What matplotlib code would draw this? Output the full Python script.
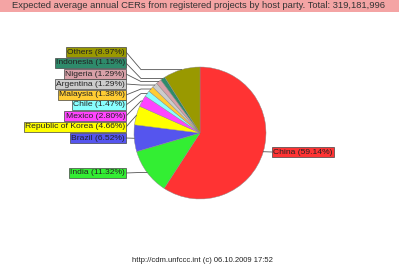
import numpy as np
import matplotlib
matplotlib.use("Agg")
import matplotlib.pyplot as plt
from matplotlib.patches import Rectangle

plt.rcParams["font.family"] = ["Liberation Sans", "DejaVu Sans"]

parties = ["China", "India", "Brazil", "Republic of Korea", "Mexico", "Chile",
           "Malaysia", "Argentina", "Nigeria", "Indonesia", "Others"]
shares = [59.14, 11.32, 6.52, 4.66, 2.80, 1.47, 1.38, 1.29, 1.29, 1.15, 8.97]
colors = ["#ff3333", "#33ee33", "#5555ee", "#ffff00", "#ff44ff", "#88ffff",
          "#ffcc33", "#cccccc", "#d8a0a8", "#2e8b6b", "#999900"]
title = "Expected average annual CERs from registered projects by host party. Total: 319,181,996"
footer = "http://cdm.unfccc.int (c) 06.10.2009 17:52"

W, H = 399, 266
fig = plt.figure(figsize=(W / 100, H / 100), dpi=100)
ax = fig.add_axes([0, 0, 1, 1])
ax.axis("off")

cx, cy, r = 200, H - 133, 66
wedges, _ = ax.pie(shares, colors=colors, startangle=90, counterclock=False,
                   center=(cx, cy), radius=r,
                   wedgeprops=dict(linewidth=0.3, edgecolor="#888888"))
ax.set_xlim(0, W)
ax.set_ylim(0, H)
ax.set_aspect("equal")

# label rows (image y) for left side labels, China on the right
label_y = {"Others": 52, "Indonesia": 63, "Nigeria": 74, "Argentina": 84,
           "Malaysia": 95, "Chile": 105, "Mexico": 116, "Republic of Korea": 127,
           "Brazil": 138, "India": 173, "China": 152}

for w, name, pct, col in zip(wedges, parties, shares, colors):
    mid = np.deg2rad((w.theta1 + w.theta2) / 2)
    mx = cx + r * np.cos(mid)
    my = cy + r * np.sin(mid)
    ly = H - label_y[name]
    txt = f"{name} ({pct:.2f}%)"
    box = dict(boxstyle="square,pad=0.12", facecolor=col, edgecolor="#444444", linewidth=0.5)
    if name == "China":
        ax.plot([mx, 272], [my, ly], color="#555555", lw=0.6)
        ax.text(273, ly, txt, ha="left", va="center", fontsize=6.1, color="#222222", bbox=box)
    else:
        xs, ys = [126], [ly]
        if mx > 141:
            xs.append(141)
            ys.append(my)
        xs.append(mx)
        ys.append(my)
        ax.plot(xs, ys, color="#555555", lw=0.6)
        ax.text(125, ly, txt, ha="right", va="center", fontsize=6.1, color="#222222", bbox=box)

ax.add_patch(Rectangle((0, H - 12), W, 12, facecolor="#f4a4a4", edgecolor="none"))
ax.text(198, H - 6, title, ha="center", va="center", fontsize=6.75, color="#333333")
ax.text(202, H - 260, footer, ha="center", va="center", fontsize=5.5, color="#222222")

fig.savefig("out.png", dpi=100)
